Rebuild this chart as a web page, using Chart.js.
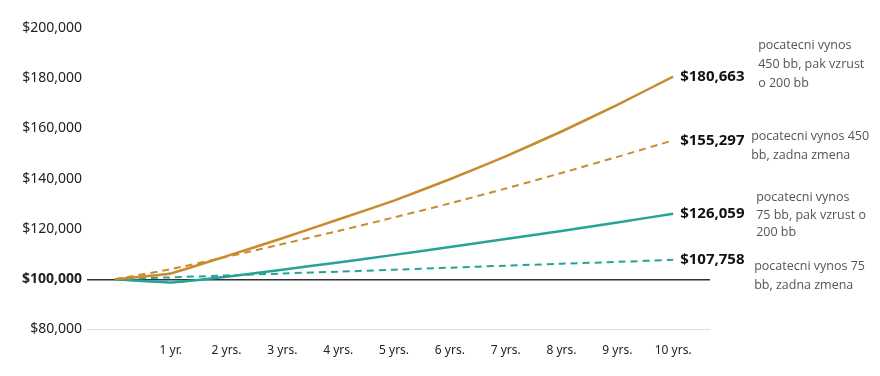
<!DOCTYPE html>
<html>
<head>
<meta charset="utf-8">
<script src="https://cdn.jsdelivr.net/npm/chart.js@4"></script>
<style>
  html, body { margin: 0; padding: 0; background: #fff; }
  #wrap { width: 880px; height: 376px; }
</style>
</head>
<body>
<div id="wrap"><canvas id="growthChart"></canvas></div>
<script>
// years 0..10
const years = [0, 1, 2, 3, 4, 5, 6, 7, 8, 9, 10];
const yearLabels = ["", "1 yr.", "2 yrs.", "3 yrs.", "4 yrs.", "5 yrs.", "6 yrs.", "7 yrs.", "8 yrs.", "9 yrs.", "10 yrs."];

const highRising = [100000, 102300, 109200, 116300, 123800, 131300, 139800, 148900, 158800, 169400, 180663];
const highFlat   = [100000, 104000, 108900, 114000, 119200, 124600, 130200, 136100, 142300, 148700, 155297];
const lowRising  = [100000, 98700, 101000, 103800, 106700, 109700, 112800, 116000, 119200, 122600, 126059];
const lowFlat    = [100000, 100750, 101500, 102300, 103000, 103800, 104600, 105400, 106200, 106900, 107758];

const endLabels = ["$180,663", "$155,297", "$126,059", "$107,758"];
const descriptions = [
  ["pocatecni vynos", "450 bb, pak vzrust", "o 200 bb"],
  ["pocatecni vynos 450", "bb, zadna zmena"],
  ["pocatecni vynos", "75 bb, pak vzrust o", "200 bb"],
  ["pocatecni vynos 75", "bb, zadna zmena"]
];

const gold = "#C98B2E";
const teal = "#25A396";

function toPoints(vals) {
  return vals.map((v, i) => ({ x: years[i], y: v }));
}

// where each description block sits relative to its line end
const descOffsets = [
  { dx: 85, dy: -31, lh: 19 },
  { dx: 78, dy: -4, lh: 19 },
  { dx: 83, dy: -16, lh: 17.5 },
  { dx: 81, dy: 7, lh: 18.5 }
];

const endLabelPlugin = {
  id: "endLabels",
  afterDatasetsDraw(chart) {
    const ctx = chart.ctx;
    ctx.save();
    chart.data.datasets.forEach((ds, i) => {
      const meta = chart.getDatasetMeta(i);
      const last = meta.data[meta.data.length - 1];
      ctx.textBaseline = "middle";
      ctx.textAlign = "left";
      ctx.fillStyle = "#111";
      ctx.font = "bold 15px 'Noto Sans', sans-serif";
      ctx.fillText(endLabels[i], last.x + 7, last.y);

      const off = descOffsets[i];
      ctx.fillStyle = "#555";
      ctx.font = "12.5px 'Open Sans', sans-serif";
      descriptions[i].forEach((line, j) => {
        ctx.fillText(line, last.x + off.dx, last.y + off.dy + j * off.lh);
      });
    });
    ctx.restore();
  }
};

const ctx = document.getElementById("growthChart").getContext("2d");

new Chart(ctx, {
  type: "line",
  data: {
    datasets: [
      { data: toPoints(highRising), borderColor: gold, borderWidth: 2.5 },
      { data: toPoints(highFlat), borderColor: gold, borderWidth: 2, borderDash: [7, 5] },
      { data: toPoints(lowRising), borderColor: teal, borderWidth: 2.5 },
      { data: toPoints(lowFlat), borderColor: teal, borderWidth: 2, borderDash: [7, 5] }
    ]
  },
  options: {
    responsive: true,
    maintainAspectRatio: false,
    animation: false,
    layout: { padding: { left: 18, right: 170, top: 28, bottom: 0 } },
    elements: {
      point: { radius: 0 },
      line: { tension: 0.1, fill: false }
    },
    plugins: {
      legend: { display: false },
      tooltip: { enabled: false }
    },
    scales: {
      x: {
        type: "linear",
        min: -0.5,
        max: 10.66,
        afterBuildTicks(scale) {
          scale.ticks = years.slice(1).map(v => ({ value: v }));
        },
        afterFit(scale) { scale.height = 46.5; },
        grid: { display: false },
        border: { display: false },
        ticks: {
          autoSkip: false,
          maxRotation: 0,
          padding: 6,
          color: "#222",
          font: { family: "'Noto Sans', sans-serif", size: 12 },
          callback: v => yearLabels[v]
        }
      },
      y: {
        min: 80000,
        max: 200000,
        afterFit(scale) { scale.width = 69; },
        border: { display: false },
        grid: {
          drawTicks: false,
          lineWidth: c => (c.tick && c.tick.value === 100000 ? 1.5 : 1),
          color: c => {
            if (!c.tick) return "transparent";
            if (c.tick.value === 100000) return "#333";
            if (c.tick.value === 80000) return "#ddd";
            return "transparent";
          }
        },
        ticks: {
          stepSize: 20000,
          padding: 5,
          color: "#222",
          font: c => ({
            family: "'Noto Sans', sans-serif",
            size: 14,
            weight: c.tick && c.tick.value === 100000 ? "bold" : "normal"
          }),
          callback: v => "$" + v.toLocaleString("en-US")
        }
      }
    }
  },
  plugins: [endLabelPlugin]
});
</script>
</body>
</html>
